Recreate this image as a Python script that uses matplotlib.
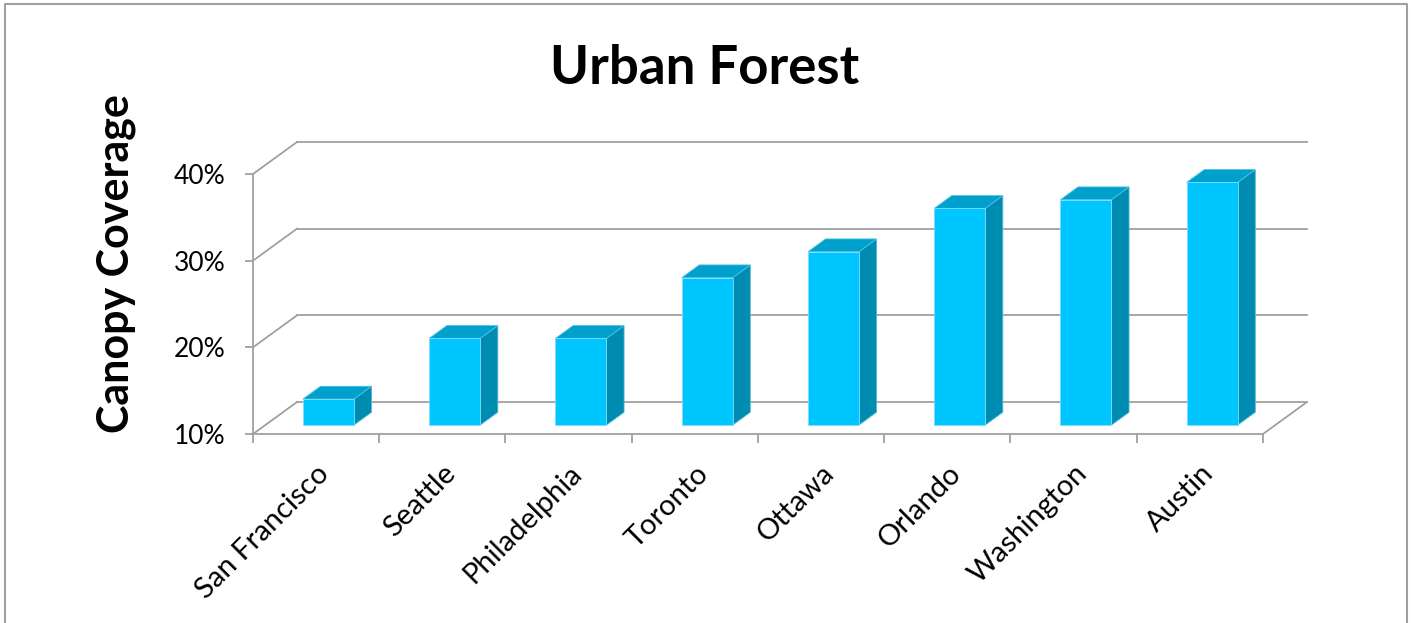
import matplotlib
matplotlib.use('Agg')

import matplotlib.pyplot as plt
from matplotlib.lines import Line2D

plt.rcParams['font.family'] = ['Lato', 'DejaVu Sans']

# -------------------------
# Data
# -------------------------
cities = ['San Francisco', 'Seattle', 'Philadelphia', 'Toronto',
          'Ottawa', 'Orlando', 'Washington', 'Austin']
coverage = [13, 20, 20, 27, 30, 35, 36, 38]   # percent
yticks = [10, 20, 30, 40]
ytick_labels = ['10%', '20%', '30%', '40%']

# -------------------------
# Pseudo-3D geometry (data units)
# -------------------------
DX, DY = 0.3485, 3.69          # full depth offset of back wall
BAR_D0, BAR_D1 = 0.28, 0.68    # bar front/back depth fraction
HALF_W = 0.202

front_c = '#00C6FF'
top_c = '#00A0CC'
side_c = '#008BB0'
grid_c = '#A0A0A0'

fig = plt.figure(figsize=(14.13, 6.23), dpi=100)
ax = fig.add_axes([0.17905, 0.30337, 0.71479, 0.41734])
ax.set_xlim(0, len(cities))
ax.set_ylim(10, 40)
ax.patch.set_visible(False)

# gridlines: back wall + left wall diagonals
for v in yticks:
    ax.plot([DX, len(cities) + DX], [v + DY, v + DY], color=grid_c, lw=1.3,
            clip_on=False, zorder=1)
    ax.plot([0, DX], [v, v + DY], color=grid_c, lw=1.3, clip_on=False, zorder=1)
# right floor edge
ax.plot([len(cities), len(cities) + DX], [10, 10 + DY], color=grid_c, lw=1.3,
        clip_on=False, zorder=1)

# bars
for i, val in enumerate(coverage):
    c = i + 0.5
    x0 = c - HALF_W + BAR_D0 * DX
    x1 = c + HALF_W + BAR_D0 * DX
    yb = 10 + BAR_D0 * DY
    yt = val + BAR_D0 * DY
    ox = (BAR_D1 - BAR_D0) * DX
    oy = (BAR_D1 - BAR_D0) * DY
    ax.fill([x1, x1 + ox, x1 + ox, x1], [yb, yb + oy, yt + oy, yt],
            color=side_c, lw=0.6, ec='#4fb8d6', clip_on=False, zorder=3)
    ax.fill([x0, x1, x1 + ox, x0 + ox], [yt, yt, yt + oy, yt + oy],
            color=top_c, lw=0.6, ec='#4fc3e6', clip_on=False, zorder=3)
    ax.fill([x0, x1, x1, x0], [yb, yb, yt, yt],
            color=front_c, lw=0.6, ec='#7fdcff', clip_on=False, zorder=4)

# axes
for s in ['top', 'right']:
    ax.spines[s].set_visible(False)
for s in ['left', 'bottom']:
    ax.spines[s].set_color(grid_c)
    ax.spines[s].set_linewidth(1.3)

ax.set_yticks(yticks)
ax.set_yticklabels(ytick_labels, fontsize=19)
ax.tick_params(axis='y', length=6, width=1.3, color=grid_c, pad=14)

ax.set_xticks(range(len(cities) + 1))
ax.set_xticklabels([])
ax.tick_params(axis='x', which='major', length=6.5, width=1.3, color=grid_c)
ax.set_xticks([i + 0.5 for i in range(len(cities))], minor=True)
ax.set_xticklabels(cities, minor=True, fontsize=21, rotation=45,
                   ha='right', rotation_mode='anchor')
ax.tick_params(axis='x', which='minor', length=0, pad=19)

ax.set_ylabel('Canopy Coverage', fontsize=31, fontweight='bold')
ax.yaxis.set_label_coords(-0.116, 0.656)

fig.text(705 / 1413, 1 - 69 / 623, 'Urban Forest', fontsize=38,
         fontweight='bold', ha='center', va='center')

# chart border (left, top, right)
fig.add_artist(Line2D([5 / 1413, 5 / 1413, 1407 / 1413, 1407 / 1413],
                      [0, 1 - 4 / 623, 1 - 4 / 623, 0],
                      transform=fig.transFigure, color='#A0A0A0', lw=1.5))

fig.savefig('out.png', dpi=100)
